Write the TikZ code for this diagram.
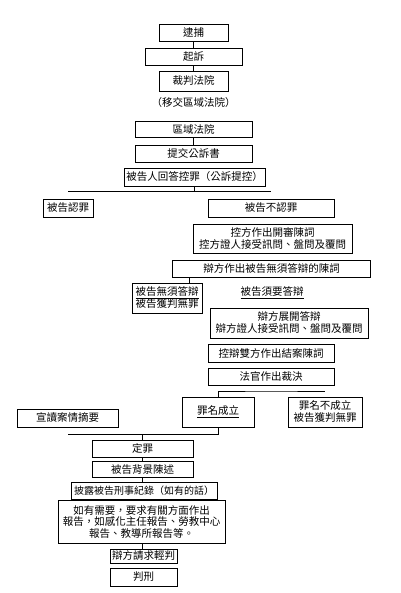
\documentclass[tikz,border=0pt]{standalone}
\usepackage{fontspec}
\newfontfamily\cjk{Noto Sans CJK TC}

\begin{document}
\begin{tikzpicture}[x=1pt,y=-1pt,line width=0.7pt,
  box/.style={draw,inner sep=0pt,align=center},
  every node/.style={font=\cjk\fontsize{10.5}{12}\selectfont}]
\useasboundingbox (0,0) rectangle (400,593);
\node[box,minimum width=69,minimum height=17] (arrest) at (193.5,32.5) {逮捕};
\node[box,minimum width=97,minimum height=17] (charge) at (193.5,56.5) {起訴};
\node[box,minimum width=69,minimum height=20] (magct) at (193.5,81) {裁判法院};
\node (transfer) at (193.5,103) {（移交區域法院）};
\node[box,minimum width=117,minimum height=16] (distct) at (193.5,129) {區域法院};
\node[box,minimum width=117,minimum height=17] (indict) at (193.5,153.5) {提交公訴書};
\node[box,minimum width=141,minimum height=18] (answer) at (194.5,177) {被告人回答控罪（公訴提控）};
\node[box,minimum width=50,minimum height=18] (guilty) at (68,208) {被告認罪};
\node[box,minimum width=126,minimum height=18] (notguilty) at (271,208) {被告不認罪};
\node[box,minimum width=159,minimum height=29] (prosopen) at (272.5,238.5) {控方作出開審陳詞\\控方證人接受訊問、盤問及覆問};
\node[box,minimum width=198,minimum height=17] (nocasesub) at (271.5,268.5) {辯方作出被告無須答辯的陳詞};
\node[box,minimum width=70,minimum height=30] (nocase) at (167,298) {\underline{被告無須答辯}\\被告獲判無罪};
\node (case) at (272,293) {\underline{被告須要答辯}};
\node[box,minimum width=158,minimum height=30] (defopen) at (289,323) {辯方展開答辯\\辯方證人接受訊問、盤問及覆問};
\node[box,minimum width=126,minimum height=18] (closing) at (271,353) {控辯雙方作出結案陳詞};
\node[box,minimum width=126,minimum height=17] (verdict) at (271,376.5) {法官作出裁決};
\node[box,minimum width=72,minimum height=30] (convicted) at (218,412) {\underline{罪名成立}};
\node[box,minimum width=74,minimum height=30] (acquitted) at (325,412) {罪名不成立\\被告獲判無罪};
\node[box,minimum width=101,minimum height=18] (facts) at (67.5,418) {宣讀案情摘要};
\node[box,minimum width=101,minimum height=17] (conviction) at (142.5,448.5) {定罪};
\node[box,minimum width=101,minimum height=16] (background) at (142.5,469.5) {被告背景陳述};
\node[box,minimum width=146,minimum height=17,font=\cjk\fontsize{10}{12}\selectfont] (record) at (144,490.5) {披露被告刑事紀錄（如有的話）};
\node[box,minimum width=167,minimum height=43,font=\cjk\fontsize{10.5}{11.5}\selectfont] (reports) at (141.5,522) {如有需要，要求有關方面作出\\報告，如感化主任報告、勞教中心\\報告、教導所報告等。};
\node[box,minimum width=67,minimum height=14] (mitigation) at (143.5,556) {辯方請求輕判};
\node[box,minimum width=67,minimum height=18] (sentence) at (143.5,577) {判刑};

\coordinate (plea) at (194.5,191);
\coordinate (nctop) at (189,283);
\coordinate (ruling) at (271,391);
\coordinate (fork) at (142.5,434);

\draw (arrest) -- (charge);
\draw (charge) -- (magct);
\draw (distct) -- (indict);
\draw (answer) -- (plea);
\draw (guilty.north |- plea) -- (notguilty.north |- plea);
\draw (nocasesub.south -| nctop) -- (nctop);
\draw (convicted) |- (ruling) -- (acquitted.north |- ruling);
\draw (convicted) |- (facts.south |- fork);
\draw (fork) -- (conviction);
\draw (conviction) -- (background);
\draw (background.south) -- (background.south |- record.north);
\draw (record.south -| fork) -- (fork |- reports.north);
\draw (reports.south -| fork) -- (fork |- mitigation.north);

\end{tikzpicture}
\end{document}
